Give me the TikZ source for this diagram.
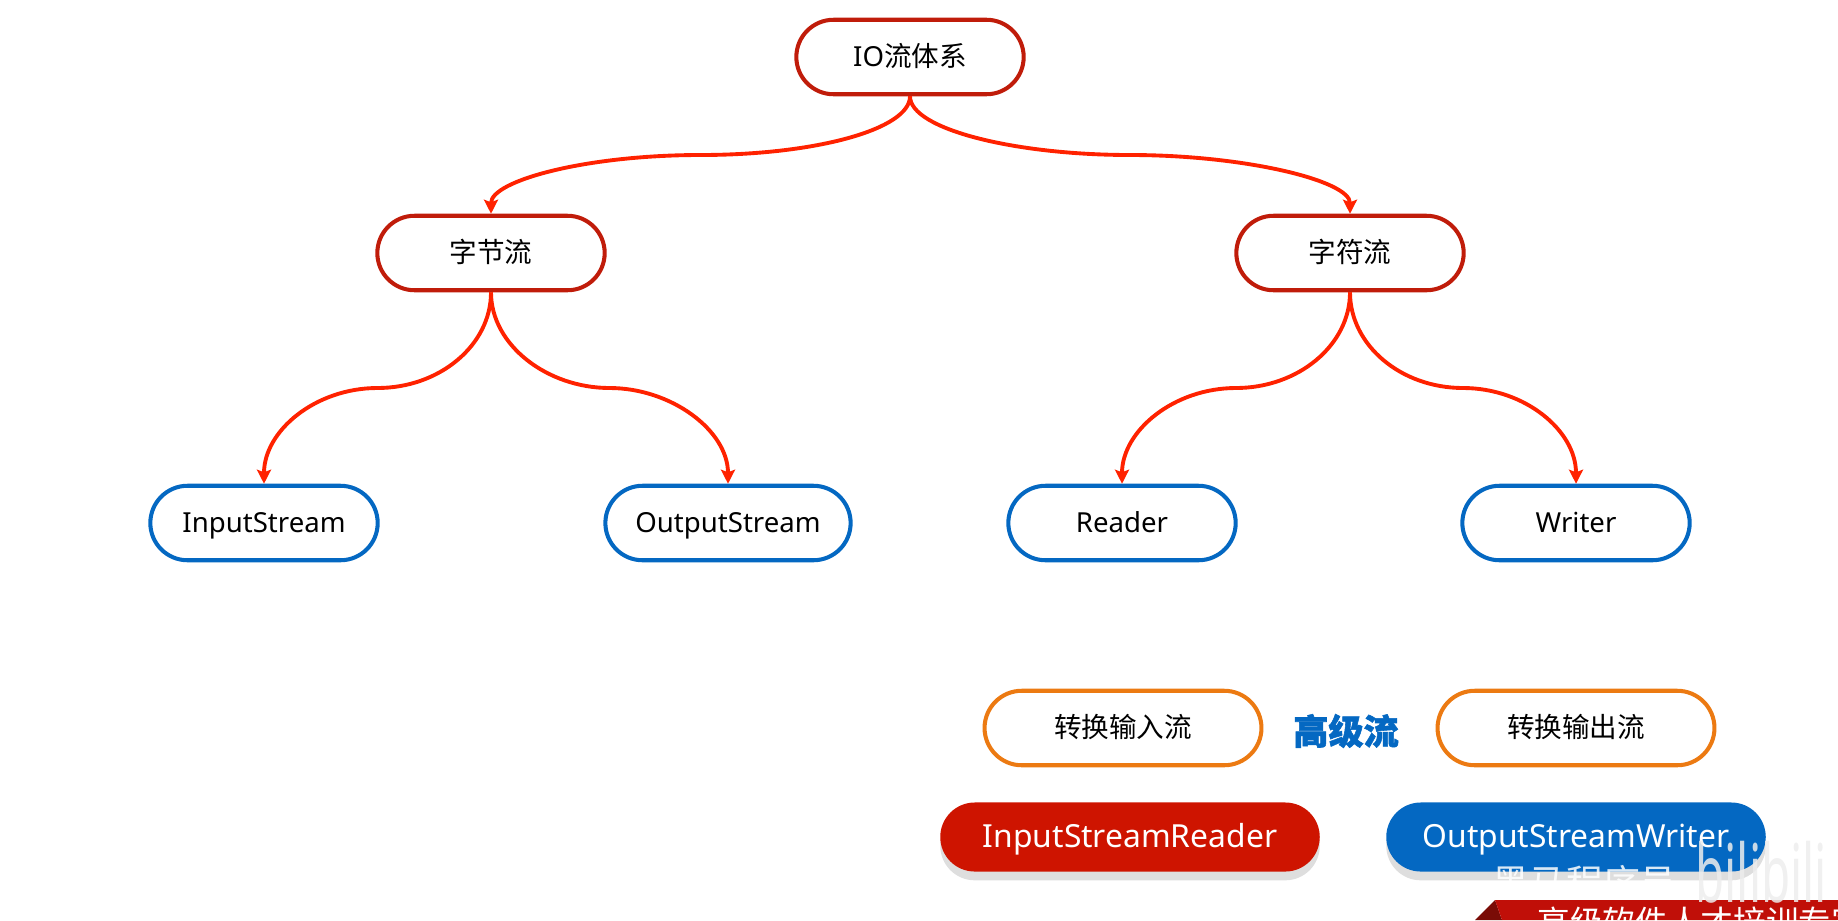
\documentclass[tikz,border=0pt]{standalone}
\usepackage{fontspec}
\setmainfont[BoldFeatures={FakeBold=3}]{Noto Sans}
\newfontfamily\cjk[BoldFeatures={FakeBold=1.5}]{Noto Sans CJK SC}
\usetikzlibrary{arrows.meta,calc,positioning,shadows,shapes.misc}
\definecolor{rootred}{HTML}{C01C0A}
\definecolor{linkred}{HTML}{FF2200}
\definecolor{leafblue}{HTML}{0468C2}
\definecolor{convorange}{HTML}{EC7A12}
\definecolor{pillred}{HTML}{CE1400}
\definecolor{ribbonred}{HTML}{C00F08}
\definecolor{folddark}{HTML}{7A0C06}
\tikzset{
  flowbox/.style={rounded rectangle,minimum height=42.4pt,line width=2.3pt,fill=white,
    text height=12.5pt,text depth=2pt,inner sep=0pt,font=\fontsize{15.7}{18}\selectfont},
  rootbox/.style={flowbox,draw=rootred,minimum width=129.4pt},
  leafbox/.style={flowbox,draw=leafblue,minimum width=129.4pt},
  convbox/.style={flowbox,draw=convorange,minimum width=157.6pt},
  pillbox/.style={rounded rectangle,minimum width=216pt,minimum height=39.3pt,inner sep=0pt,text=white,
    text height=14pt,text depth=2.5pt,font=\fontsize{18.1}{22}\selectfont,
    drop shadow={shadow xshift=0pt,shadow yshift=-5pt,fill=black!13,opacity=1}},
  link/.style={draw=linkred,line width=2.2pt,-{Stealth[length=8pt,width=8pt,inset=1.5pt]}}
}
\begin{document}
\begin{tikzpicture}[x=0.02cm,y=-0.02cm]
  \useasboundingbox (0,0) rectangle (1838,920);
  \node[rootbox] (io) at (910,57) {IO{\cjk 流体系}};
  \node[rootbox] (bytes) at (491,253) {\cjk 字节流};
  \node[rootbox] (chars) at (1350,253) {\cjk 字符流};
  \node[leafbox] (instream) at (264,523) {InputStream};
  \node[leafbox,minimum width=139.6pt] (outstream) at (728,523) {OutputStream};
  \node[leafbox] (reader) at (1122,523) {Reader};
  \node[leafbox] (writer) at (1576,523) {Writer};
  \node[convbox] (convin) at (1123,728) {\cjk 转换输入流};
  \node[convbox] (convout) at (1576,728) {\cjk 转换输出流};
  \node[text=leafblue,font=\fontsize{20}{24}\selectfont\cjk\bfseries] (adv) at (1346,731) {高级流};
  \node[pillbox,fill=pillred] (isr) at (1130,837) {InputStreamReader};
  \node[pillbox,fill=leafblue] (osw) at (1576,837) {OutputStreamWriter};
  % curved links
  \coordinate (m1) at ($(io.south)!.5!(bytes.north)$);
  \coordinate (m2) at ($(io.south)!.5!(chars.north)$);
  \draw[link] (io.south) .. controls +(0,33) and +(115,0) .. (m1) .. controls +(-115,0) and +(0,-33) .. (bytes.north);
  \draw[link] (io.south) .. controls +(0,33) and +(-115,0) .. (m2) .. controls +(115,0) and +(0,-33) .. (chars.north);
  \foreach \from/\to/\mid/\sgn in {bytes/instream/m3/1,bytes/outstream/m4/-1,chars/reader/m5/1,chars/writer/m6/-1} {
    \coordinate (\mid) at ($(\from.south)!.5!(\to.north)$);
    \draw[link] (\from.south) .. controls +(0,53) and +(\sgn*62,0) .. (\mid) .. controls +(-\sgn*62,0) and +(0,-53) .. (\to.north);
  }
  % ribbon and watermark
  \fill[folddark] (1475,920) -- (1495,900) -- (1502,920) -- cycle;
  \fill[ribbonred] (1495,900) -- (1838,900) -- (1838,920) -- (1502,920) -- cycle;
  \begin{scope}
    \clip (0,0) rectangle (1838,920);
    \node[text=white,font=\fontsize{18.6}{20}\selectfont\cjk,anchor=west,inner sep=0pt] (slogan) at (1537,922) {高级软件人才培训专家};
    \node[text=white,opacity=.85,font=\fontsize{21}{24}\selectfont\cjk,anchor=west,inner sep=0pt] (wmark) at (1492,882) {黑马程序员};
    \node[text=black!7,opacity=.85,font=\fontsize{27}{30}\selectfont\bfseries,anchor=west,inner sep=0pt,yscale=1.7] (bili) at (1695,872) {bilibili};
  \end{scope}
\end{tikzpicture}
\end{document}
